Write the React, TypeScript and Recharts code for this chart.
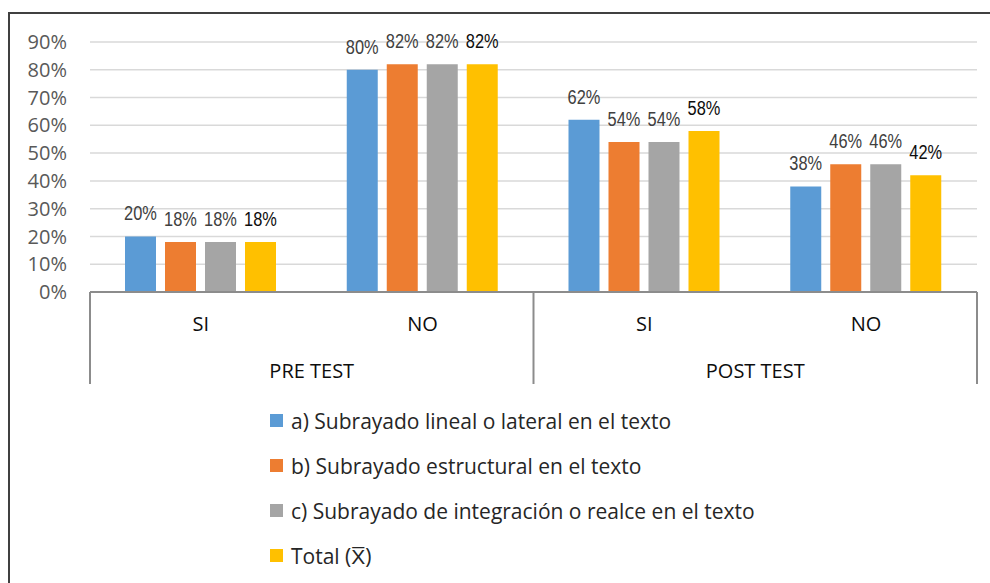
import React from "react";
import { BarChart, Bar, XAxis, YAxis, CartesianGrid, Legend, LabelList } from "recharts";

const categories = ["SI", "NO", "SI", "NO"];
const groups = ["PRE TEST", "PRE TEST", "POST TEST", "POST TEST"];
const lineal = [20, 80, 62, 38];
const estructural = [18, 82, 54, 46];
const integracion = [18, 82, 54, 46];
const total = [18, 82, 58, 42];
const yTicks = [0, 10, 20, 30, 40, 50, 60, 70, 80, 90];

const SERIES = [
  { key: "a", label: "a) Subrayado lineal o lateral en el texto", color: "#5b9bd5", text: "#404040" },
  { key: "b", label: "b) Subrayado estructural en el texto", color: "#ed7d31", text: "#404040" },
  { key: "c", label: "c) Subrayado de integración o realce en el texto", color: "#a5a5a5", text: "#404040" },
  { key: "t", label: "Total (X\u0305)", color: "#ffc000", text: "#0d0d0d" },
];

const data = categories.map((c, i) => ({
  id: `${groups[i]}-${c}`,
  a: lineal[i],
  b: estructural[i],
  c: integracion[i],
  t: total[i],
}));

const AXIS_COLOR = "#8c8c8c";
const FONT = "'Open Sans', sans-serif";

// two-level category axis: SI / NO on top, PRE / POST TEST below
function CategoryTick(props: any) {
  const { x, y, payload, index } = props;
  const half = payload?.offset ?? 0;
  const depth = 92;
  return (
    <g>
      <text
        x={x}
        y={y + 31}
        textAnchor="middle"
        dominantBaseline="central"
        fontFamily={FONT}
        fontSize={20}
        fill="#0d0d0d"
      >
        {categories[index]}
      </text>
      {index % 2 === 0 && (
        <>
          <line x1={x - half} y1={y} x2={x - half} y2={y + depth} stroke={AXIS_COLOR} strokeWidth={2} />
          <text
            x={x + half}
            y={y + 78}
            textAnchor="middle"
            dominantBaseline="central"
            fontFamily={FONT}
            fontSize={20}
            fill="#0d0d0d"
          >
            {groups[index]}
          </text>
        </>
      )}
      {index === categories.length - 1 && (
        <line x1={x + half} y1={y} x2={x + half} y2={y + depth} stroke={AXIS_COLOR} strokeWidth={2} />
      )}
    </g>
  );
}

// narrow value labels (squeezed Liberation Sans, like Arial Narrow)
function makeValueLabel(color: string) {
  return function ValueLabel(props: any) {
    const { x, y, width, value } = props;
    const cx = x + width / 2;
    const by = y - 16;
    return (
      <text
        transform={`translate(${cx},${by}) scale(0.78,1)`}
        textAnchor="middle"
        fontFamily="'Liberation Sans', Arial, sans-serif"
        fontSize={21}
        fill={color}
      >
        {`${value}%`}
      </text>
    );
  };
}

function LegendContent() {
  return (
    <div style={{ fontFamily: FONT, fontSize: 21, color: "#262626" }}>
      {SERIES.map((s) => (
        <div key={s.key} style={{ height: 45, display: "flex", alignItems: "center" }}>
          <span style={{ width: 13, height: 13, background: s.color, marginLeft: 8, marginRight: 8 }} />
          <span>{s.label}</span>
        </div>
      ))}
    </div>
  );
}

export default function App() {
  return (
    <div style={{ position: "absolute", top: 0, left: 0, width: 990, height: 583, overflow: "hidden", background: "#fff" }}>
      <div
        style={{
          position: "absolute",
          left: 8,
          top: 12,
          width: 1000,
          height: 600,
          border: "2px solid #404040",
        }}
      />
      <div style={{ position: "absolute", left: 0, top: 0 }}>
        <BarChart
          width={990}
          height={583}
          data={data}
          margin={{ top: 42, right: 13, bottom: 199, left: 0 }}
          barCategoryGap={35}
          barGap={9}
        >
          <CartesianGrid vertical={false} stroke="#d9d9d9" strokeWidth={1.5} />
          <XAxis
            dataKey="id"
            height={92}
            interval={0}
            tickLine={false}
            tickSize={0}
            tickMargin={0}
            axisLine={{ stroke: AXIS_COLOR, strokeWidth: 2 }}
            tick={<CategoryTick />}
          />
          <YAxis
            width={90}
            domain={[0, 90]}
            ticks={yTicks}
            interval={0}
            axisLine={false}
            tickLine={false}
            tickSize={0}
            tickMargin={23}
            tickFormatter={(v: number) => `${v}%`}
            tick={{ fontFamily: FONT, fontSize: 20, fill: "#595959" }}
          />
          {SERIES.map((s) => (
            <Bar key={s.key} dataKey={s.key} name={s.label} fill={s.color} isAnimationActive={false}>
              <LabelList dataKey={s.key} content={makeValueLabel(s.text)} />
            </Bar>
          ))}
          <Legend
            layout="vertical"
            verticalAlign="middle"
            align="center"
            wrapperStyle={{ top: 398, left: 262, width: 600 }}
            content={<LegendContent />}
          />
        </BarChart>
      </div>
    </div>
  );
}
